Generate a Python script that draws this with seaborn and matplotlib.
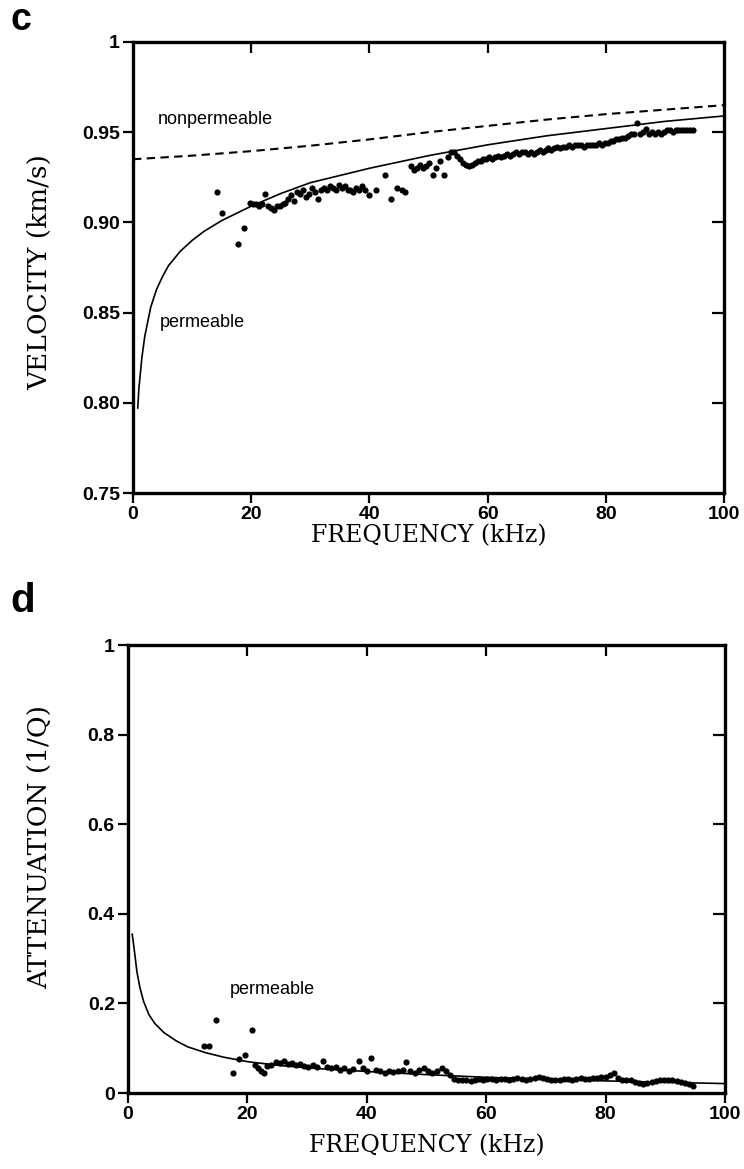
import numpy as np
import pandas as pd
import matplotlib
matplotlib.use("Agg")
import matplotlib.pyplot as plt
import seaborn as sns

# ---------------- data: panel c (velocity) ----------------
perm_vel_f = [0.8, 1.0, 1.5, 2.0, 3.0, 4.0, 5.0, 6.0, 8.0, 10, 12, 15, 20, 25, 30, 35, 40,
              50, 60, 70, 80, 90, 100]
perm_vel_v = [0.797, 0.808, 0.825, 0.837, 0.853, 0.863, 0.870, 0.876, 0.884, 0.890, 0.895,
              0.901, 0.909, 0.916, 0.922, 0.926, 0.930, 0.937, 0.943, 0.948, 0.952, 0.956, 0.959]

nonperm_f = [0, 10, 20, 30, 40, 50, 60, 70, 80, 90, 100]
nonperm_v = [0.935, 0.937, 0.9395, 0.9425, 0.946, 0.950, 0.9535, 0.957, 0.960, 0.9625, 0.965]

vel_meas_f = [14.2, 15.0, 17.8, 18.8, 19.8, 20.3, 20.8, 21.3, 21.8, 22.3, 22.8, 23.3, 23.8,
              24.3, 24.8, 25.3, 25.8, 26.3, 26.8, 27.3, 27.8, 28.3, 28.8, 29.3, 29.8, 30.3,
              30.8, 31.3, 31.8, 32.3, 32.8, 33.3, 33.8, 34.3, 34.8, 35.3, 35.8, 36.3, 36.8,
              37.3, 37.8, 38.3, 38.8, 39.3, 40.0, 41.2, 42.6, 43.7, 44.7, 45.5, 46.0, 47.0,
              47.5, 48.0, 48.5, 49.0, 49.5, 50.0, 50.7, 51.2, 52.0, 52.7, 53.3, 53.8, 54.3,
              54.8, 55.3, 55.8, 56.3, 56.8, 57.3, 57.8, 58.3, 58.8, 59.3, 59.8, 60.3, 60.8,
              61.3, 61.8, 62.3, 62.8, 63.3, 63.8, 64.3, 64.8, 65.3, 65.8, 66.3, 66.8, 67.3,
              67.8, 68.3, 68.8, 69.3, 69.8, 70.3, 70.8, 71.3, 71.8, 72.3, 72.8, 73.3, 73.8,
              74.3, 74.8, 75.3, 75.8, 76.3, 76.8, 77.3, 77.8, 78.3, 78.8, 79.3, 79.8, 80.3,
              80.8, 81.3, 81.8, 82.3, 82.8, 83.3, 83.8, 84.3, 84.8, 85.3, 85.8, 86.3, 86.8,
              87.3, 87.8, 88.3, 88.8, 89.3, 89.8, 90.3, 90.8, 91.3, 91.8, 92.3, 92.8, 93.3,
              93.8, 94.3, 94.8]
vel_meas_v = [0.917, 0.905, 0.888, 0.897, 0.911, 0.910, 0.910, 0.909, 0.910, 0.916, 0.909,
              0.908, 0.907, 0.909, 0.909, 0.910, 0.911, 0.913, 0.915, 0.912, 0.917, 0.916,
              0.918, 0.914, 0.916, 0.919, 0.917, 0.913, 0.918, 0.919, 0.918, 0.920, 0.919,
              0.918, 0.921, 0.919, 0.920, 0.918, 0.918, 0.917, 0.919, 0.918, 0.920, 0.918,
              0.915, 0.918, 0.926, 0.913, 0.919, 0.918, 0.917, 0.931, 0.929, 0.930, 0.932,
              0.930, 0.931, 0.933, 0.926, 0.930, 0.934, 0.926, 0.936, 0.939, 0.939, 0.937,
              0.935, 0.933, 0.932, 0.931, 0.932, 0.933, 0.934, 0.934, 0.935, 0.935, 0.936,
              0.935, 0.936, 0.937, 0.936, 0.937, 0.938, 0.937, 0.938, 0.939, 0.938, 0.939,
              0.939, 0.938, 0.939, 0.938, 0.939, 0.940, 0.939, 0.940, 0.941, 0.940, 0.941,
              0.942, 0.941, 0.942, 0.942, 0.943, 0.942, 0.943, 0.943, 0.943, 0.942, 0.943,
              0.943, 0.943, 0.943, 0.944, 0.943, 0.944, 0.944, 0.945, 0.945, 0.946, 0.946,
              0.947, 0.947, 0.948, 0.949, 0.949, 0.955, 0.949, 0.950, 0.952, 0.949, 0.950,
              0.949, 0.950, 0.949, 0.950, 0.951, 0.951, 0.950, 0.951, 0.951, 0.951, 0.951,
              0.951, 0.951, 0.951]

# ---------------- data: panel d (attenuation) ----------------
perm_att_f = [0.7, 1.0, 1.5, 2.0, 2.6, 3.5, 4.5, 6.0, 8.0, 10, 13, 16, 20, 25, 30, 40, 50,
              60, 70, 80, 90, 100]
perm_att_q = [0.355, 0.325, 0.27, 0.235, 0.205, 0.175, 0.155, 0.135, 0.117, 0.103, 0.090,
              0.080, 0.070, 0.062, 0.056, 0.048, 0.041, 0.035, 0.031, 0.027, 0.024, 0.021]

att_meas_f = [12.7, 13.5, 14.8, 17.6, 18.6, 19.6, 20.7, 21.2, 21.8, 22.3, 22.8, 23.3, 24.0,
              24.8, 25.5, 26.2, 26.8, 27.5, 28.2, 28.8, 29.5, 30.2, 31.0, 31.7, 32.6, 33.3,
              34.0, 34.8, 35.5, 36.2, 37.0, 37.7, 38.7, 39.3, 40.0, 40.7, 41.5, 42.2, 43.0,
              43.7, 44.4, 45.2, 46.0, 46.6, 47.3, 48.0, 48.8, 49.5, 50.2, 51.0, 51.8, 52.6,
              53.3, 54.0, 54.6, 55.3, 56.0, 56.7, 57.4, 58.1, 58.8, 59.5, 60.2, 61.0, 61.7,
              62.4, 63.1, 63.8, 64.5, 65.2, 66.0, 66.7, 67.4, 68.1, 68.8, 69.5, 70.2, 70.9,
              71.6, 72.3, 73.0, 73.7, 74.4, 75.1, 75.8, 76.5, 77.2, 77.9, 78.6, 79.3, 80.0,
              80.7, 81.4, 82.1, 82.8, 83.5, 84.2, 84.9, 85.6, 86.3, 87.0, 87.7, 88.4, 89.1,
              89.8, 90.5, 91.2, 91.9, 92.6, 93.3, 94.0, 94.7]
att_meas_q = [0.105, 0.105, 0.163, 0.045, 0.075, 0.085, 0.140, 0.062, 0.055, 0.050, 0.045,
              0.060, 0.062, 0.070, 0.066, 0.072, 0.064, 0.068, 0.062, 0.065, 0.060, 0.058,
              0.062, 0.057, 0.072, 0.058, 0.055, 0.058, 0.052, 0.056, 0.050, 0.054, 0.072,
              0.055, 0.050, 0.078, 0.052, 0.048, 0.045, 0.050, 0.046, 0.048, 0.052, 0.070,
              0.050, 0.045, 0.052, 0.055, 0.048, 0.044, 0.050, 0.055, 0.050, 0.040, 0.032,
              0.030, 0.028, 0.030, 0.027, 0.029, 0.031, 0.030, 0.032, 0.031, 0.029, 0.031,
              0.032, 0.030, 0.031, 0.033, 0.031, 0.029, 0.031, 0.033, 0.035, 0.033, 0.031,
              0.030, 0.029, 0.030, 0.032, 0.031, 0.030, 0.031, 0.033, 0.032, 0.031, 0.033,
              0.034, 0.036, 0.035, 0.040, 0.045, 0.033, 0.030, 0.030, 0.028, 0.024, 0.022,
              0.021, 0.022, 0.025, 0.027, 0.029, 0.030, 0.029, 0.030, 0.027, 0.025, 0.022,
              0.019, 0.015]

x_ticks = [0, 20, 40, 60, 80, 100]
x_ticklabels = ["0", "20", "40", "60", "80", "100"]
vel_ticks = [0.75, 0.80, 0.85, 0.90, 0.95, 1.0]
vel_ticklabels = ["0.75", "0.80", "0.85", "0.90", "0.95", "1"]
att_ticks = [0, 0.2, 0.4, 0.6, 0.8, 1.0]
att_ticklabels = ["0", "0.2", "0.4", "0.6", "0.8", "1"]

# ---------------- styling ----------------
sns.set_theme(style="ticks")
plt.rcParams["font.family"] = ["Liberation Sans", "DejaVu Sans"]

W, H = 744, 1169
fig = plt.figure(figsize=(W / 100, H / 100), dpi=100)
fig.patch.set_facecolor("white")

def px_axes(left, top, right, bottom):
    return fig.add_axes([left / W, 1 - bottom / H, (right - left) / W, (bottom - top) / H])

ax1 = px_axes(133, 42, 724, 493)
ax2 = px_axes(128, 645, 725, 1093)

serif = ["DejaVu Serif"]

def style_axes(ax, yticks, yticklabels, ylabel, ylab_xy, xlab_y):
    ax.set_facecolor("white")
    for s in ax.spines.values():
        s.set_linewidth(2.4)
        s.set_color("black")
        s.set_visible(True)
    ax.set_xlim(0, 100)
    ax.set_xticks(x_ticks)
    ax.set_xticklabels(x_ticklabels)
    ax.set_ylim(yticks[0], yticks[-1])
    ax.set_yticks(yticks)
    ax.set_yticklabels(yticklabels)
    ax.tick_params(axis="both", which="major", direction="out", length=7.5, width=1.6,
                   color="black", labelsize=14, pad=2,
                   top=False, right=False)
    for lab in ax.get_xticklabels() + ax.get_yticklabels():
        lab.set_fontweight("bold")
        lab.set_color("black")
        lab.set_family(["Liberation Sans", "DejaVu Sans"])
    # inward ticks on top and right
    sec_x = ax.secondary_xaxis("top")
    sec_x.set_xticks([t for t in x_ticks if 0 < t < 100])
    sec_x.tick_params(direction="in", length=8, width=1.6, labeltop=False, color="black")
    sec_x.spines["top"].set_visible(False)
    sec_y = ax.secondary_yaxis("right")
    sec_y.set_yticks(yticks[1:-1])
    sec_y.tick_params(direction="in", length=9, width=1.6, labelright=False, color="black")
    sec_y.spines["right"].set_visible(False)
    ax.set_xlabel("FREQUENCY (kHz)", family=serif, fontsize=17, color="black")
    ax.xaxis.set_label_coords(0.5, xlab_y)
    ax.xaxis.label.set_va("center")
    ax.set_ylabel(ylabel, family=serif, fontsize=19, color="black")
    ax.yaxis.set_label_coords(*ylab_xy)
    ax.yaxis.label.set_va("center")
    ax.grid(False)

# ---------------- panel c ----------------
df_perm_v = pd.DataFrame({"f": perm_vel_f, "v": perm_vel_v})
df_nonperm = pd.DataFrame({"f": nonperm_f, "v": nonperm_v})
df_vel = pd.DataFrame({"f": vel_meas_f, "v": vel_meas_v})

sns.lineplot(data=df_perm_v, x="f", y="v", ax=ax1, color="black", lw=1.2, sort=True,
             estimator=None)
sns.lineplot(data=df_nonperm, x="f", y="v", ax=ax1, color="black", lw=1.5,
             linestyle=(0, (4, 2.6)), estimator=None)
sns.scatterplot(data=df_vel, x="f", y="v", ax=ax1, color="black", s=20, linewidth=0,
                zorder=3)
style_axes(ax1, vel_ticks, vel_ticklabels, "VELOCITY (km/s)",
           ((40 - 133) / 591, 0.49), (493 - 536) / 451)
ax1.text(4.2, 0.957, "nonpermeable", fontsize=13, va="center", ha="left", color="black")
ax1.text(4.5, 0.8445, "permeable", fontsize=13, va="center", ha="left", color="black")
fig.text(10 / W, 1 - 20 / H, "c", fontsize=27, fontweight="bold", va="center", ha="left",
         color="black")

# ---------------- panel d ----------------
df_perm_a = pd.DataFrame({"f": perm_att_f, "q": perm_att_q})
df_att = pd.DataFrame({"f": att_meas_f, "q": att_meas_q})
sns.lineplot(data=df_perm_a, x="f", y="q", ax=ax2, color="black", lw=1.2, estimator=None)
sns.scatterplot(data=df_att, x="f", y="q", ax=ax2, color="black", s=20, linewidth=0,
                zorder=3)
style_axes(ax2, att_ticks, att_ticklabels, "ATTENUATION (1/Q)",
           ((40 - 128) / 597, 0.55), (1093 - 1146) / 448)
ax2.text(17.0, 0.232, "permeable", fontsize=13, va="center", ha="left", color="black")
fig.text(10 / W, 1 - 601 / H, "d", fontsize=29, fontweight="bold", va="center", ha="left",
         color="black")

fig.savefig("out.png", dpi=100, facecolor="white")
